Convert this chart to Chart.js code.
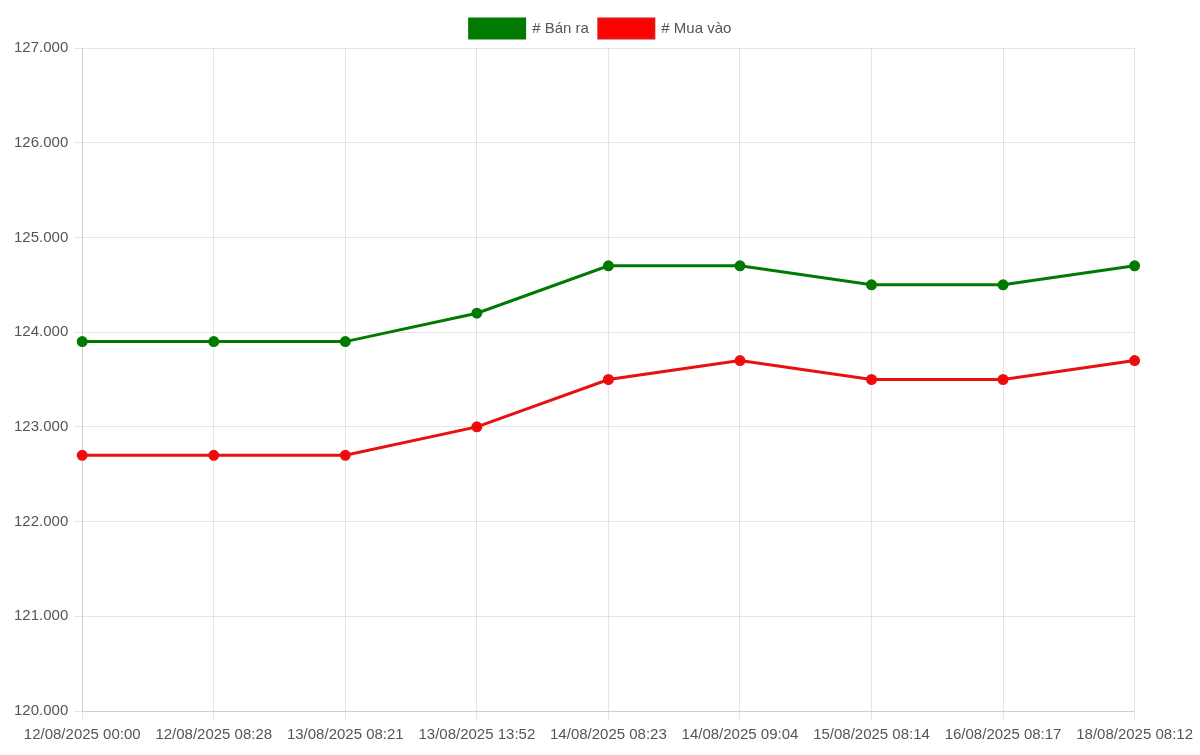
<!DOCTYPE html>
<html>
<head>
<meta charset="utf-8">
<script src="https://cdn.jsdelivr.net/npm/chart.js@4.4.0/dist/chart.umd.min.js"></script>
<style>
  html, body { margin: 0; padding: 0; background: #fff; }
  #wrap { width: 1200px; height: 755px; }
</style>
</head>
<body>
<div id="wrap"><canvas id="chGold"></canvas></div>
<script>
// data
var labels = ['12/08/2025 00:00', '12/08/2025 08:28', '13/08/2025 08:21', '13/08/2025 13:52',
  '14/08/2025 08:23', '14/08/2025 09:04', '15/08/2025 08:14', '16/08/2025 08:17', '18/08/2025 08:12'];
var banRa = [123900, 123900, 123900, 124200, 124700, 124700, 124500, 124500, 124700];
var muaVao = [122700, 122700, 122700, 123000, 123500, 123700, 123500, 123500, 123700];

Chart.defaults.font.family = "'Liberation Sans', Arial, sans-serif";
Chart.defaults.font.size = 15;
Chart.defaults.color = '#555';

new Chart(document.getElementById('chGold'), {
  type: 'line',
  data: {
    labels: labels,
    datasets: [
      {
        label: '# Bán ra',
        data: banRa,
        borderColor: '#007a00',
        backgroundColor: '#007a00',
        borderWidth: 3,
        pointRadius: 4,
        fill: false,
        tension: 0
      },
      {
        label: '# Mua vào',
        data: muaVao,
        borderColor: '#e81010',
        backgroundColor: '#ff0000',
        borderWidth: 3,
        pointRadius: 4,
        fill: false,
        tension: 0
      }
    ]
  },
  options: {
    responsive: true,
    maintainAspectRatio: false,
    animation: false,
    layout: { padding: { top: 9, left: 8, right: 7, bottom: 4 } },
    plugins: {
      legend: {
        position: 'top',
        labels: { boxWidth: 55, boxHeight: 19, padding: 10 }
      },
      tooltip: { enabled: false }
    },
    scales: {
      x: {
        ticks: { maxRotation: 0, autoSkip: false, padding: 7 }
      },
      y: {
        min: 120000,
        max: 127000,
        ticks: {
          stepSize: 1000,
          padding: 6,
          callback: function (v) { return v.toLocaleString('de-DE'); }
        }
      }
    }
  }
});
</script>
</body>
</html>
